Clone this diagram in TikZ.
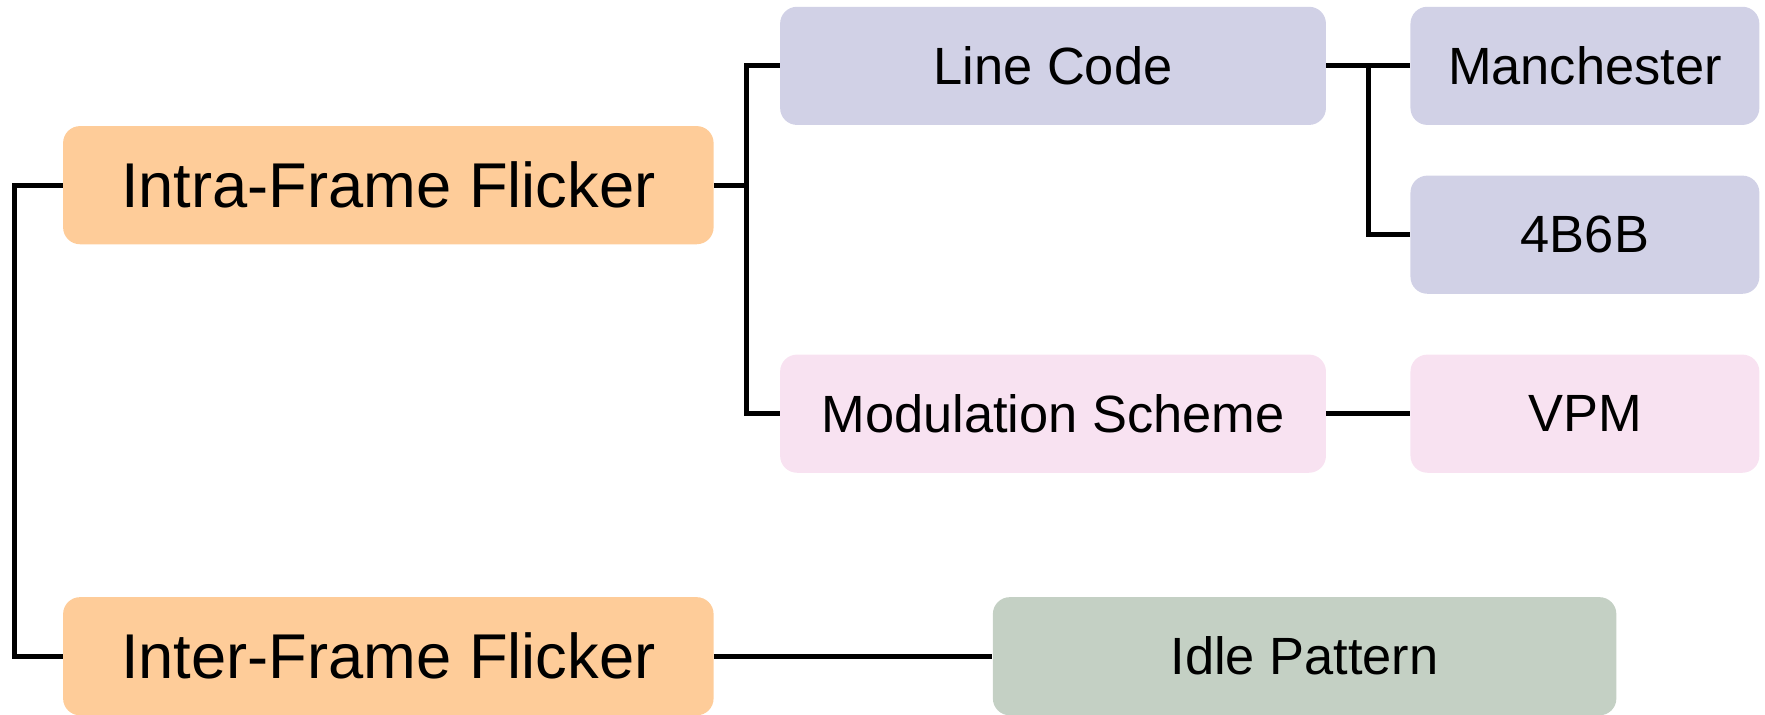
\documentclass[tikz,border=0pt]{standalone}
\usepackage{fontspec}
\setmainfont{Liberation Sans}
\usetikzlibrary{calc}
\usetikzlibrary{positioning}

\definecolor{flickorange}{HTML}{FECC99}
\definecolor{codeblue}{HTML}{D1D1E6}
\definecolor{modpink}{HTML}{F8E2F1}
\definecolor{idlegreen}{HTML}{C4D0C4}

\begin{document}
\begin{tikzpicture} [x=.02cm, y=-.02cm,
 box/.style={rounded corners=.3cm, inner sep=0pt, minimum height=2.1cm},
 flick/.style={box, fill=flickorange, minimum width=11.56cm, font=\fontsize{32}{38}\selectfont},
 branch/.style={box, minimum width=9.7cm, font=\fontsize{26.5}{32}\selectfont},
 leaf/.style={box, minimum width=6.2cm, font=\fontsize{26.5}{32}\selectfont},
 link/.style={black, line width=2.4pt}]
\useasboundingbox (0,0) rectangle (1568,635);
% first level
\node[flick] (intra) at (345,164.5) {Intra-Frame Flicker};
\node[flick] (inter) at (345,583) {Inter-Frame Flicker};
% second level
\node[branch, fill=codeblue] (linecode) at (935.5,58.5) {Line Code};
\node[branch, fill=modpink] (modscheme) at (935.5,367.5) {Modulation Scheme};
\node[branch, fill=idlegreen, minimum width=11.08cm] (idle) at (1159,583) {Idle Pattern};
% third level
\node[leaf, fill=codeblue] (manch) at (1408,58.5) {Manchester};
\node[leaf, fill=codeblue] (fourb) at (1408,208.5) {4B6B};
\node[leaf, fill=modpink] (vpm) at (1408,367.5) {VPM};

\coordinate (split) at ($(intra.east)+(29,0)$);
\coordinate (fork) at ($(linecode.east)!.5!(manch.west)$);
\draw[link] (intra.west) -- ++(-43,0) |- (inter.west);
\draw[link] (intra.east) -- (split);
\draw[link] (linecode.west) -| (split) |- (modscheme.west);
\draw[link] (linecode.east) -- (manch.west);
\draw[link] (fork) |- (fourb.west);
\draw[link] (modscheme.east) -- (vpm.west);
\draw[link] (inter.east) -- (idle.west);
\end{tikzpicture}
\end{document}
